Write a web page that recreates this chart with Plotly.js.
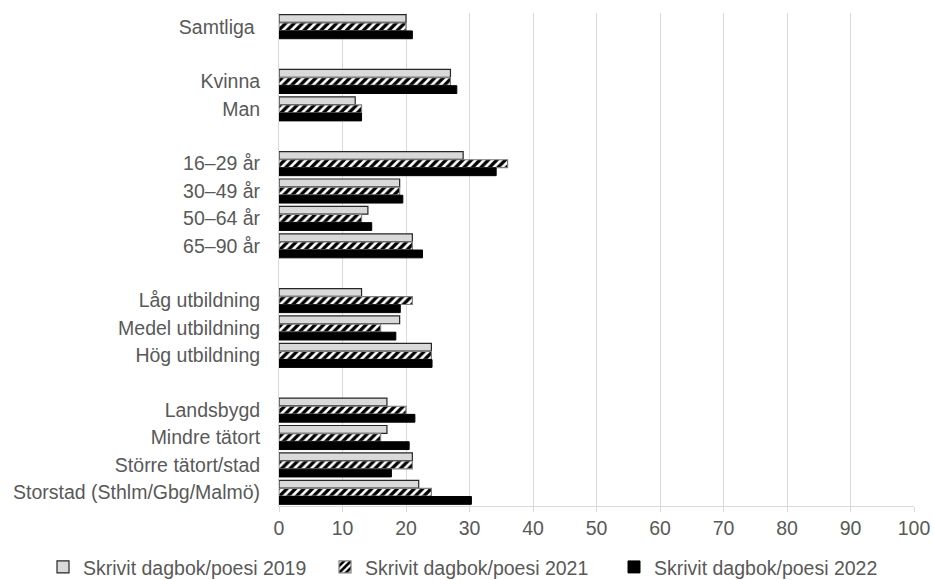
<!DOCTYPE html>
<html>
<head>
<meta charset="utf-8">
<script src="https://cdn.plot.ly/plotly-3.0.1.min.js"></script>
<style>html,body{margin:0;padding:0;background:#fff;}#chart{width:935px;height:580px;}</style>
</head>
<body>
<div id="chart"></div>
<script>
const categories = [
  "Samtliga ", " ",
  "Kvinna", "Man", "  ",
  "16–29 år", "30–49 år", "50–64 år", "65–90 år", "   ",
  "Låg utbildning", "Medel utbildning", "Hög utbildning", "    ",
  "Landsbygd", "Mindre tätort", "Större tätort/stad", "Storstad (Sthlm/Gbg/Malmö)"
];
const values2019 = [20, null, 27, 12, null, 29, 19, 14, 21, null, 13, 19, 24, null, 17, 17, 21, 22];
const values2021 = [20, null, 27, 13, null, 36, 19, 13, 21, null, 21, 16, 24, null, 20, 16, 21, 24];
const values2022 = [21, null, 28, 13, null, 34.2, 19.5, 14.6, 22.6, null, 19.1, 18.4, 24.1, null, 21.4, 20.5, 17.7, 30.3];
const seriesNames = ["Skrivit dagbok/poesi 2019", "Skrivit dagbok/poesi 2021", "Skrivit dagbok/poesi 2022"];
const xTicks = [0, 10, 20, 30, 40, 50, 60, 70, 80, 90, 100];

const font = {family: "Liberation Sans, Arial, sans-serif", size: 19.5, color: "#595959"};

const traces = [
  {
    type: "bar", orientation: "h", name: seriesNames[0], legend: "legend",
    y: categories, x: values2019,
    marker: {color: "#d9d9d9", line: {color: "#262626", width: 1.2}}
  },
  {
    type: "bar", orientation: "h", name: seriesNames[1], legend: "legend2",
    y: categories, x: values2021,
    marker: {color: "#ffffff", line: {color: "#7f7f7f", width: 1.2},
      pattern: {shape: "/", fgcolor: "#000000", bgcolor: "#ffffff", size: 6, solidity: 0.55}}
  },
  {
    type: "bar", orientation: "h", name: seriesNames[2], legend: "legend3",
    y: categories, x: values2022,
    marker: {color: "#000000", line: {color: "#000000", width: 1}}
  }
];

function legendAt(px) {
  return {
    orientation: "h",
    xref: "container", yref: "container",
    x: px / 935, y: 0.022, xanchor: "left", yanchor: "middle",
    font: font,
    itemclick: false
  };
}

const layout = {
  width: 935, height: 580,
  margin: {l: 279, r: 21, t: 13, b: 74},
  paper_bgcolor: "#ffffff", plot_bgcolor: "#ffffff",
  font: font,
  barmode: "group",
  bargap: 0.11,
  bargroupgap: 0.04,
  showlegend: true,
  legend: legendAt(43),
  legend2: legendAt(325),
  legend3: legendAt(614),
  xaxis: {
    range: [0, 100],
    tickvals: xTicks,
    ticktext: xTicks.map(String),
    showgrid: true, gridcolor: "#d9d9d9", gridwidth: 1,
    zeroline: false,
    showline: true, linecolor: "#d9d9d9", linewidth: 1,
    ticks: "outside", ticklen: 5, tickcolor: "#d9d9d9",
    tickfont: font,
    fixedrange: true
  },
  yaxis: {
    type: "category",
    categoryorder: "array", categoryarray: categories,
    autorange: "reversed",
    showgrid: false, zeroline: false,
    showline: true, linecolor: "#d9d9d9", linewidth: 1,
    ticks: "", ticklabelstandoff: 14,
    tickfont: font,
    fixedrange: true
  }
};

Plotly.newPlot("chart", traces, layout, {displayModeBar: false, staticPlot: true});
</script>
</body>
</html>
